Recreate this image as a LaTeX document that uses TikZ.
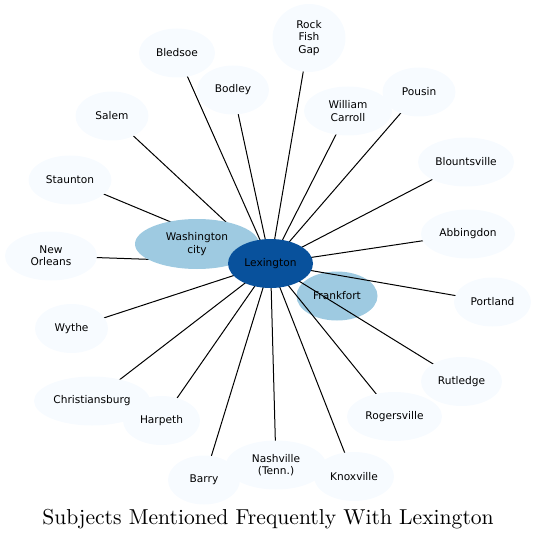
\documentclass[tikz,border=0pt]{standalone}
\usepackage{fontspec}
\usepackage{xcolor}
\usepackage{tikz}
\usetikzlibrary{shapes.geometric}
\newfontfamily\placefont{DejaVu Sans}
\newfontfamily\titlefont{lmroman10-regular}[Extension=.otf]
\definecolor{pale}{HTML}{F7FBFF}
\definecolor{midblue}{HTML}{9ECAE1}
\definecolor{deepblue}{HTML}{08519C}
\pgfdeclarelayer{under}
\pgfdeclarelayer{links}
\pgfsetlayers{under,links,main}

\begin{document}
\begin{tikzpicture}[
  x=1pt, y=-1pt,
  place/.style={ellipse, fill=pale, inner sep=0pt, minimum height=49pt,
    font={\placefont\fontsize{10.6}{12.4}\selectfont}, align=center},
  nearplace/.style={place, fill=midblue},
  hub/.style={place, fill=deepblue},
  link/.style={line width=1pt, color=black},
]
\useasboundingbox (0,0) rectangle (536,540);

% Hub and close neighbours
\begin{pgfonlayer}{under}
\node[nearplace, minimum width=81pt] (frankfort) at (337,296) {Frankfort};
\end{pgfonlayer}
\node[nearplace, minimum width=124pt, minimum height=50pt] (washington) at (197,244) {Washington\\city};
\node[hub, minimum width=85pt] (lex) at (270.5,263.5) {Lexington};

% Outer ring, left half
\node[place, minimum width=76pt] (bledsoe) at (177,53) {Bledsoe};
\node[place, minimum width=72pt] (bodley) at (233,90) {Bodley};
\node[place, minimum width=73pt] (salem) at (112,116) {Salem};
\node[place, minimum width=83pt] (staunton) at (70,180) {Staunton};
\node[place, minimum width=92pt] (neworleans) at (51,256) {New\\Orleans};
\node[place, minimum width=73pt] (wythe) at (71.5,328.5) {Wythe};
\node[place, minimum width=116pt] (christiansburg) at (92,401) {Christiansburg};
\node[place, minimum width=77pt] (harpeth) at (161.5,420.5) {Harpeth};
\node[place, minimum width=72pt] (barry) at (204,480) {Barry};
\node[place, minimum width=100pt] (nashville) at (276,465) {Nashville\\(Tenn.)};

% Outer ring, right half
\node[place, minimum width=80pt] (knoxville) at (354,476.5) {Knoxville};
\node[place, minimum width=95pt] (rogersville) at (394.5,416.5) {Rogersville};
\node[place, minimum width=81pt] (rutledge) at (461.5,381.5) {Rutledge};
\node[place, minimum width=77pt] (portland) at (492.5,302) {Portland};
\node[place, minimum width=94pt] (abbingdon) at (468,234) {Abbingdon};
\node[place, minimum width=96pt] (blountsville) at (466,162) {Blountsville};
\node[place, minimum width=73pt] (pousin) at (419,92) {Pousin};
\node[place, minimum width=88pt] (carroll) at (348,111) {William\\Carroll};
\node[place, minimum width=73pt, minimum height=68pt] (rockfish) at (309,38) {Rock\\Fish\\Gap};

% Links from the hub
\begin{pgfonlayer}{links}
\foreach \n in {bledsoe,bodley,salem,staunton,neworleans,wythe,christiansburg,
    harpeth,barry,nashville,knoxville,rogersville,rutledge,portland,abbingdon,
    blountsville,pousin,carroll,rockfish}
  \draw[link] (lex.center) -- (\n.center);
\end{pgfonlayer}

% Title
\node[anchor=base, font={\titlefont\fontsize{21.6}{25}\selectfont}] (title) at (268,524)
  {Subjects Mentioned Frequently With Lexington};
\end{tikzpicture}
\end{document}
